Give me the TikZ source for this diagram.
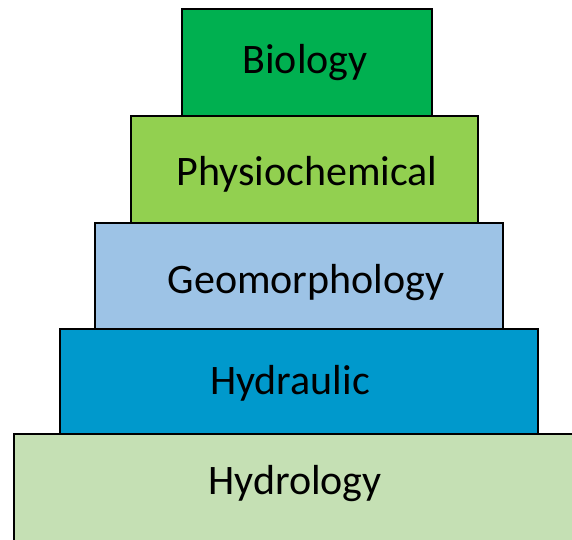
\documentclass[tikz,border=0pt]{standalone}
\usepackage{fontspec}
\setmainfont{Carlito}
\definecolor{cBio}{HTML}{00B050}
\definecolor{cPhys}{HTML}{92D050}
\definecolor{cGeo}{HTML}{9DC3E6}
\definecolor{cHydra}{HTML}{0099CC}
\definecolor{cHydro}{HTML}{C5E0B4}
\tikzset{
  layer/.style={draw=black, line width=1.5pt},
  lbl/.style={font=\fontsize{42}{48}\selectfont, text=black, inner sep=0pt}
}
\begin{document}
\begin{tikzpicture}[x=1pt,y=-1pt]
\useasboundingbox (0,0) rectangle (572,539);
\clip (0,0) rectangle (572,539);
\fill[white] (0,0) rectangle (572,539);
\draw[layer, fill=cHydro] (14,434) rectangle (590,560);
\draw[layer, fill=cHydra] (60,329) rectangle (538,434);
\draw[layer, fill=cGeo] (95,223) rectangle (503,329);
\draw[layer, fill=cPhys] (131,116) rectangle (478,223);
\draw[layer, fill=cBio] (182,9) rectangle (432,116);
\node[lbl] (bio) at (305,63) {Biology};
\node[lbl] (phys) at (307,174) {Physiochemical};
\node[lbl] (geo) at (306,283) {Geomorphology};
\node[lbl] (hydra) at (290,383) {Hydraulic};
\node[lbl] (hydro) at (295,484) {Hydrology};
\end{tikzpicture}
\end{document}
